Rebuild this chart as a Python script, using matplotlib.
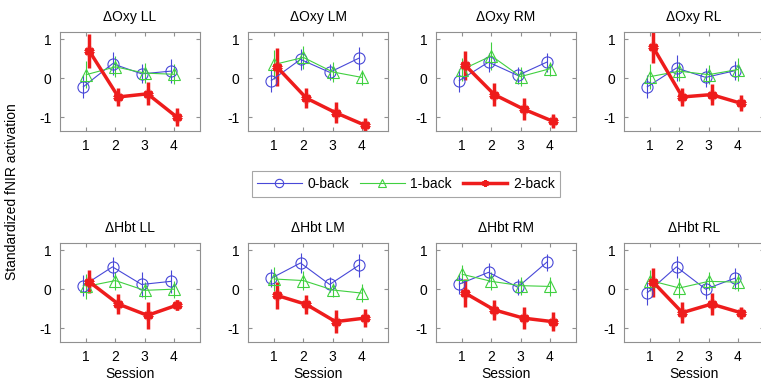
import matplotlib.pyplot as plt
import numpy as np
from matplotlib.lines import Line2D

sessions = np.array([1, 2, 3, 4])
conditions = ["0-back", "1-back", "2-back"]
titles = ["\u0394Oxy LL", "\u0394Oxy LM", "\u0394Oxy RM", "\u0394Oxy RL",
          "\u0394Hbt LL", "\u0394Hbt LM", "\u0394Hbt RM", "\u0394Hbt RL"]

# mean values per panel: rows = 0-back, 1-back, 2-back
means = [
    [[-0.22, 0.37, 0.11, 0.18], [0.09, 0.29, 0.13, 0.10], [0.70, -0.48, -0.40, -0.99]],
    [[-0.06, 0.48, 0.15, 0.51], [0.35, 0.53, 0.16, 0.02], [0.28, -0.51, -0.88, -1.20]],
    [[-0.06, 0.41, 0.07, 0.41], [0.22, 0.57, 0.04, 0.24], [0.33, -0.42, -0.79, -1.10]],
    [[-0.22, 0.26, 0.02, 0.19], [0.04, 0.18, 0.09, 0.22], [0.79, -0.48, -0.42, -0.64]],
    [[0.09, 0.57, 0.12, 0.20], [0.07, 0.22, -0.03, 0.00], [0.19, -0.38, -0.67, -0.41]],
    [[0.28, 0.67, 0.12, 0.61], [0.26, 0.22, -0.02, -0.10], [-0.16, -0.39, -0.83, -0.74]],
    [[0.13, 0.43, 0.05, 0.69], [0.38, 0.20, 0.09, 0.07], [-0.10, -0.53, -0.74, -0.83]],
    [[-0.09, 0.57, 0.00, 0.28], [0.22, 0.03, 0.20, 0.18], [0.18, -0.60, -0.38, -0.60]],
]
errors = [
    [[0.29, 0.29, 0.24, 0.30], [0.35, 0.27, 0.25, 0.25], [0.44, 0.22, 0.29, 0.22]],
    [[0.29, 0.27, 0.20, 0.29], [0.37, 0.30, 0.26, 0.20], [0.48, 0.25, 0.27, 0.18]],
    [[0.29, 0.24, 0.22, 0.24], [0.29, 0.35, 0.24, 0.18], [0.37, 0.29, 0.29, 0.18]],
    [[0.29, 0.33, 0.24, 0.24], [0.31, 0.24, 0.24, 0.29], [0.40, 0.24, 0.26, 0.20]],
    [[0.27, 0.26, 0.31, 0.30], [0.31, 0.23, 0.22, 0.22], [0.29, 0.25, 0.35, 0.13]],
    [[0.23, 0.25, 0.19, 0.29], [0.30, 0.25, 0.19, 0.23], [0.35, 0.25, 0.29, 0.23]],
    [[0.25, 0.25, 0.21, 0.22], [0.23, 0.23, 0.23, 0.25], [0.36, 0.25, 0.29, 0.25]],
    [[0.31, 0.29, 0.26, 0.27], [0.27, 0.25, 0.23, 0.23], [0.37, 0.27, 0.27, 0.15]],
]

colors = ["#4848d8", "#40d040", "#ee1c1c"]
offsets = [-0.1, 0.0, 0.1]
styles = [
    dict(marker="o", ms=8, mfc="none", lw=0.8, mew=0.8),
    dict(marker="^", ms=8, mfc="none", lw=0.8, mew=0.8),
    dict(marker=(6, 2, 0), ms=7, lw=2.5, mew=2.5),
]

plt.rcParams["font.family"] = ["Liberation Sans", "DejaVu Sans"]
plt.rcParams["axes.unicode_minus"] = False
fig = plt.figure(figsize=(7.61, 3.83), dpi=100)

W, H = 761, 383
lefts = [60, 248, 436, 624]
tops = [32, 243]
aw, ah = 140, 99

for i in range(8):
    r, c = divmod(i, 4)
    ax = fig.add_axes([lefts[c] / W, 1 - (tops[r] + ah) / H, aw / W, ah / H])
    for k in range(3):
        ax.errorbar(sessions + offsets[k], means[i][k], yerr=errors[i][k],
                    color=colors[k], capsize=0, elinewidth=styles[k]["lw"],
                    **styles[k])
    ax.set_xlim(0.1, 4.9)
    ax.set_ylim(-1.35, 1.18)
    ax.set_xticks(sessions)
    ax.set_yticks([-1, 0, 1])
    ax.tick_params(direction="in", length=3, labelsize=10, color="#909090",
                   top=True, right=True, pad=6)
    for sp in ax.spines.values():
        sp.set_color("#909090")
    ax.set_title(titles[i], fontsize=10, pad=8)
    if r == 1:
        ax.set_xlabel("Session", fontsize=10, labelpad=2)

fig.text(12 / W, 0.5, "Standardized fNIR activation", rotation=90,
         ha="center", va="center", fontsize=10)

handles = [Line2D([], [], color=colors[0], marker="o", ms=6, mfc="none", lw=0.8, mew=0.8),
           Line2D([], [], color=colors[1], marker="^", ms=6, mfc="none", lw=0.8, mew=0.8),
           Line2D([], [], color=colors[2], marker=(6, 2, 0), ms=5, lw=2.5, mew=1.5)]
leg = fig.legend(handles, conditions, loc="center", ncol=3,
                 bbox_to_anchor=(406 / W, 1 - 184 / H), fontsize=10,
                 fancybox=False, edgecolor="#909090", handlelength=3.2,
                 handletextpad=0.4, columnspacing=0.8, borderpad=0.4)
leg.get_frame().set_linewidth(0.8)

fig.savefig("out.png", dpi=100)
